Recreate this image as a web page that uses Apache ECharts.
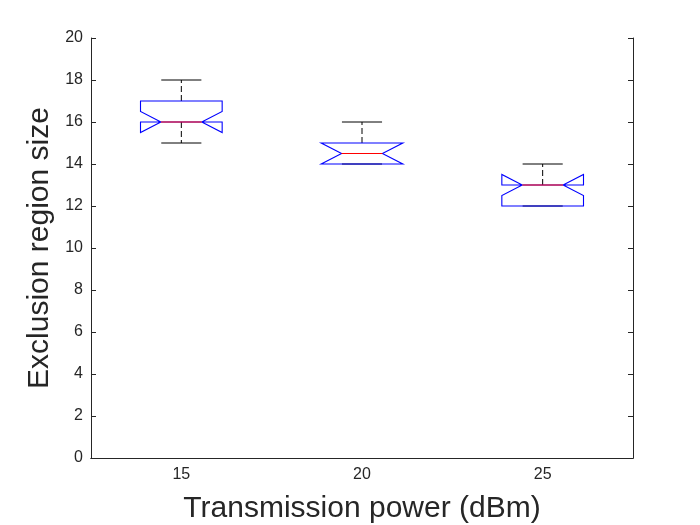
<!DOCTYPE html>
<html>
<head>
<meta charset="utf-8">
<script src="https://cdn.jsdelivr.net/npm/echarts@6/dist/echarts.min.js"></script>
<style>html,body{margin:0;padding:0;background:#fff}#c{width:700px;height:525px}</style>
</head>
<body>
<div id="c"></div>
<script>
var categories = ['15', '20', '25'];
var mins = [15, 14, 12];
var q1s = [16, 14, 12];
var medians = [16, 14.5, 13];
var q3s = [17, 15, 13];
var maxs = [18, 16, 14];
var notchLow = [15.5, 14, 12.5];
var notchHigh = [16.5, 15, 13.5];
var yTicks = [0, 2, 4, 6, 8, 10, 12, 14, 16, 18, 20];

var FONT = '"Liberation Sans", Arial, Helvetica, sans-serif';
var AX = '#262626';

var data = categories.map(function (c, i) {
  return [i, mins[i], q1s[i], medians[i], q3s[i], maxs[i], notchLow[i], notchHigh[i]];
});

function renderItem(params, api) {
  var idx = api.value(0);
  var band = api.size([1, 0])[0];
  var hw = band * 0.226, iw = hw * 0.5, cw = band * 0.111;
  function P(dx, v) { var p = api.coord([idx, v]); return [p[0] + dx, p[1]]; }
  var mn = api.value(1), q1 = api.value(2), md = api.value(3), q3 = api.value(4), mx = api.value(5), nl = api.value(6), nh = api.value(7);
  var children = [];
  var dashStyle = { stroke: '#000', lineWidth: 1, lineDash: [6, 3] };
  var capStyle = { stroke: '#000', lineWidth: 1 };
  if (mx > q3) {
    var a = P(0, q3), b = P(0, mx);
    children.push({ type: 'line', shape: { x1: a[0], y1: a[1], x2: b[0], y2: b[1] }, style: dashStyle });
  }
  if (mn < q1) {
    var a2 = P(0, q1), b2 = P(0, mn);
    children.push({ type: 'line', shape: { x1: a2[0], y1: a2[1], x2: b2[0], y2: b2[1] }, style: dashStyle });
  }
  var t1 = P(-cw, mx), t2 = P(cw, mx);
  children.push({ type: 'line', shape: { x1: t1[0], y1: t1[1], x2: t2[0], y2: t2[1] }, style: capStyle });
  var u1 = P(-cw, mn), u2 = P(cw, mn);
  children.push({ type: 'line', shape: { x1: u1[0], y1: u1[1], x2: u2[0], y2: u2[1] }, style: capStyle });
  var pts = [P(-hw, q1), P(-hw, nl), P(-iw, md), P(-hw, nh), P(-hw, q3), P(hw, q3), P(hw, nh), P(iw, md), P(hw, nl), P(hw, q1)];
  children.push({ type: 'polygon', shape: { points: pts }, style: { fill: 'none', stroke: '#0000ff', lineWidth: 1.1 } });
  var m1 = P(-iw, md), m2 = P(iw, md);
  children.push({ type: 'line', shape: { x1: m1[0], y1: m1[1], x2: m2[0], y2: m2[1] }, style: { stroke: '#ff0000', lineWidth: 1 } });
  return { type: 'group', children: children };
}

var chart = echarts.init(document.getElementById('c'), null, { renderer: 'canvas' });
chart.setOption({
  animation: false,
  backgroundColor: '#fff',
  grid: { left: 91, right: 67, top: 38, bottom: 67, show: false, containLabel: false, outerBoundsMode: 'none' },
  xAxis: [{
    type: 'category', data: categories, position: 'bottom',
    name: 'Transmission power (dBm)', nameLocation: 'middle', nameGap: 36,
    nameTextStyle: { fontFamily: FONT, fontSize: 30, color: AX },
    axisLine: { lineStyle: { color: AX, width: 1 } },
    axisTick: { inside: true, alignWithLabel: true, length: 5, lineStyle: { color: AX } },
    axisLabel: { fontFamily: FONT, fontSize: 16, color: AX, margin: 9 },
    splitLine: { show: false }
  }, {
    type: 'category', data: categories, position: 'top',
    axisLine: { lineStyle: { color: AX, width: 1 } },
    axisTick: { inside: true, alignWithLabel: true, length: 5, lineStyle: { color: AX } },
    axisLabel: { show: false }, splitLine: { show: false }
  }],
  yAxis: [{
    type: 'value', min: 0, max: 20, interval: 2, position: 'left',
    name: 'Exclusion region size', nameLocation: 'middle', nameGap: 27,
    nameTextStyle: { fontFamily: FONT, fontSize: 30, color: AX },
    axisLine: { show: true, lineStyle: { color: AX, width: 1 } },
    axisTick: { show: true, inside: true, length: 5, lineStyle: { color: AX } },
    axisLabel: { fontFamily: FONT, fontSize: 16, color: AX, margin: 8,
      formatter: function (v) { return yTicks.indexOf(v) >= 0 ? String(v) : ''; } },
    splitLine: { show: false }
  }, {
    type: 'value', min: 0, max: 20, interval: 2, position: 'right',
    axisLine: { show: true, lineStyle: { color: AX, width: 1 } },
    axisTick: { show: true, inside: true, length: 5, lineStyle: { color: AX } },
    axisLabel: { show: false }, splitLine: { show: false }
  }],
  series: [{
    type: 'custom', xAxisIndex: 0, yAxisIndex: 0,
    renderItem: renderItem,
    encode: { x: 0, y: [1, 2, 3, 4, 5] },
    data: data
  }]
});
</script>
</body>
</html>
